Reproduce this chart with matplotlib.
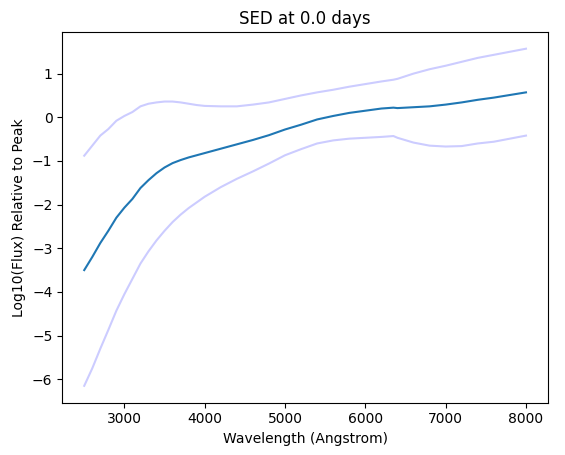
import numpy as np
import matplotlib.pyplot as plt

wave = [2500, 2600, 2700, 2800, 2900, 3000, 3100, 3200, 3300, 3400, 3500, 3600,
        3700, 3800, 3900, 4000, 4200, 4400, 4600, 4800, 5000, 5200, 5400, 5600,
        5800, 6000, 6200, 6350, 6400, 6600, 6800, 7000, 7200, 7400, 7600, 7800, 8000]
mid = [-3.5, -3.2, -2.88, -2.6, -2.3, -2.07, -1.87, -1.62, -1.44, -1.28, -1.15, -1.05,
       -0.98, -0.92, -0.87, -0.82, -0.72, -0.62, -0.52, -0.41, -0.28, -0.17, -0.05, 0.03,
       0.10, 0.15, 0.20, 0.22, 0.21, 0.23, 0.25, 0.29, 0.34, 0.40, 0.45, 0.51, 0.57]
upper = [-0.88, -0.65, -0.42, -0.27, -0.08, 0.03, 0.12, 0.25, 0.31, 0.34, 0.36, 0.36,
         0.34, 0.31, 0.28, 0.26, 0.25, 0.25, 0.29, 0.34, 0.42, 0.50, 0.57, 0.63,
         0.70, 0.76, 0.82, 0.86, 0.88, 1.00, 1.10, 1.18, 1.27, 1.36, 1.43, 1.50, 1.57]
lower = [-6.15, -5.75, -5.3, -4.87, -4.43, -4.05, -3.7, -3.35, -3.07, -2.82, -2.6, -2.4,
         -2.23, -2.08, -1.95, -1.82, -1.6, -1.41, -1.24, -1.06, -0.87, -0.73, -0.6, -0.53,
         -0.49, -0.47, -0.45, -0.43, -0.47, -0.58, -0.65, -0.67, -0.66, -0.6, -0.56, -0.49, -0.42]

fig, ax = plt.subplots(figsize=(5.65, 4.55), dpi=100)
fig.subplots_adjust(left=0.11, right=0.97, top=0.93, bottom=0.115)
ax.plot(wave, upper, color='#ccccff')
ax.plot(wave, lower, color='#ccccff')
ax.plot(wave, mid, color='#1f77b4')
ax.set_title('SED at 0.0 days')
ax.set_xlabel('Wavelength (Angstrom)')
ax.set_ylabel('Log10(Flux) Relative to Peak')

plt.savefig('out.png')
